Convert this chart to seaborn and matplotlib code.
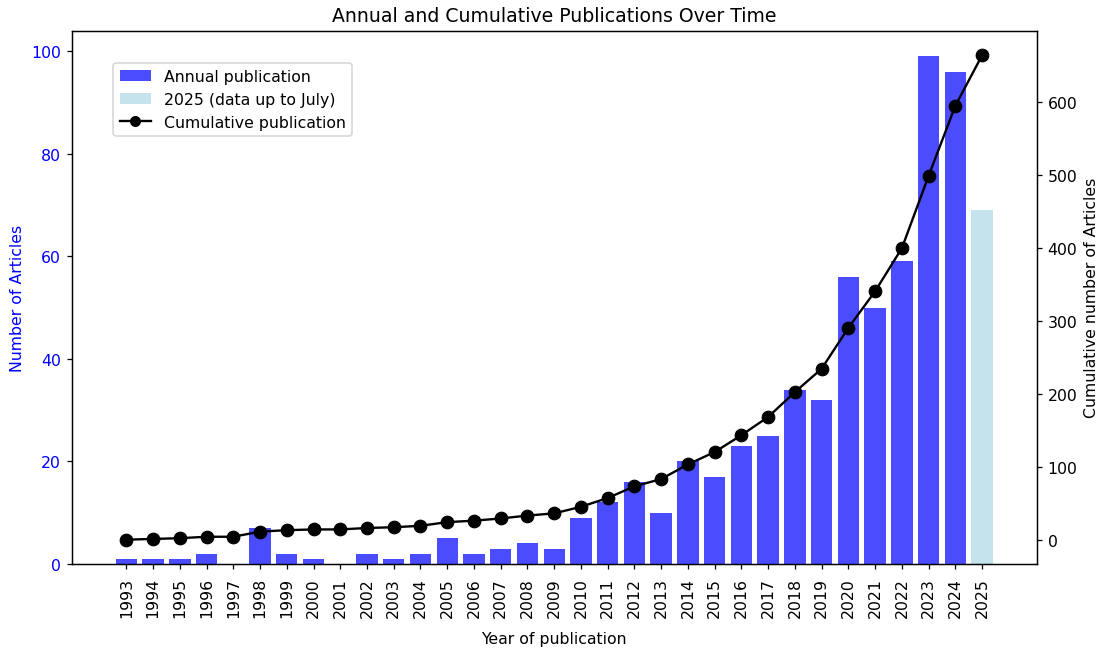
import numpy as np
import pandas as pd
import seaborn as sns
import matplotlib.pyplot as plt
from matplotlib.patches import Patch
from matplotlib.lines import Line2D

years = list(range(1993, 2026))
annual = [1, 1, 1, 2, 0, 7, 2, 1, 0, 2, 1, 2, 5, 2, 3, 4, 3, 9, 12, 16,
          10, 20, 17, 23, 25, 34, 32, 56, 50, 59, 99, 96, 69]
cumulative = list(np.cumsum(annual))

df = pd.DataFrame({'Year': [str(y) for y in years], 'Annual': annual,
                   'Cumulative': cumulative})
df['Kind'] = ['partial' if y == 2025 else 'full' for y in years]
df['pos'] = range(len(df))

plt.rcParams['font.family'] = ['DejaVu Sans']

fig, ax1 = plt.subplots(figsize=(9.77, 5.75), dpi=113)
fig.subplots_adjust(left=0.065, right=0.939, top=0.951, bottom=0.131)

sns.barplot(data=df, x='Year', y='Annual', hue='Kind', dodge=False,
            palette={'full': 'blue', 'partial': 'lightblue'}, alpha=0.7,
            saturation=1, width=0.8, linewidth=0, legend=False, ax=ax1)
ax1.set_xlabel('Year of publication', labelpad=9)
ax1.set_ylabel('Number of Articles', color='blue')
ax1.tick_params(axis='y', labelcolor='blue')
ax1.tick_params(axis='x', rotation=90, pad=5)
n = len(df)
span = (n - 1) + 0.8
ax1.set_xlim(-0.4 - 0.05 * span, n - 1 + 0.4 + 0.05 * span)
ax1.set_ylim(0, max(annual) * 1.05)

ax2 = ax1.twinx()
sns.lineplot(data=df, x='pos', y='Cumulative', color='black', marker='o',
             markersize=8, markeredgecolor='black', linewidth=1.5, ax=ax2)
ax2.set_ylabel('Cumulative number of Articles')
ax2.set_xlabel('')
ax2.margins(y=0.05)

handles = [Patch(facecolor='blue', alpha=0.7, label='Annual publication'),
           Patch(facecolor='lightblue', alpha=0.7, label='2025 (data up to July)'),
           Line2D([0], [0], color='black', marker='o', label='Cumulative publication')]
ax1.legend(handles=handles, loc='upper left', bbox_to_anchor=(0.035, 0.955))

ax1.set_title('Annual and Cumulative Publications Over Time')
fig.savefig('out.png')
